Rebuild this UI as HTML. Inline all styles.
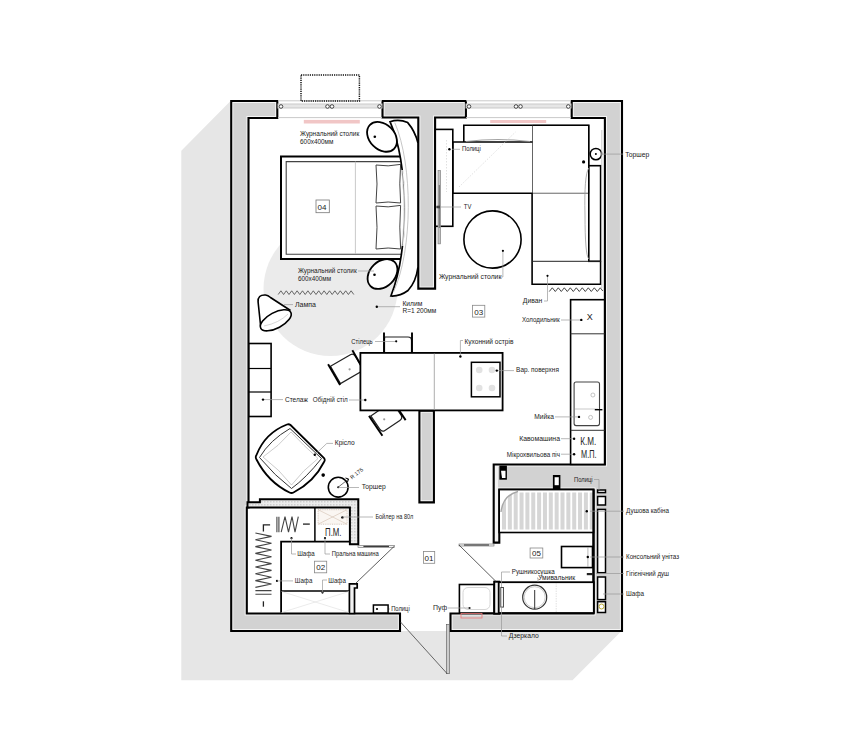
<!DOCTYPE html>
<html><head><meta charset="utf-8">
<style>
html,body{margin:0;padding:0;background:#fff;width:852px;height:745px;overflow:hidden}
svg{display:block}
text{font-family:"Liberation Sans",sans-serif;fill:#222}
</style></head><body>
<svg width="852" height="745" viewBox="0 0 852 745">
<defs>
<pattern id="hatch" width="3" height="3" patternUnits="userSpaceOnUse">
<rect width="3" height="3" fill="#ececec"/><rect x="0" y="0" width="1.5" height="1.5" fill="#cfcfcf"/>
</pattern>
</defs>
<!-- shadow -->
<polygon points="230,101.5 181.3,150.7 181.3,680.2 572.5,680.2 621.5,631 231,631" fill="#e6e6e6"/>
<!-- interior white -->
<rect x="248" y="118" width="357" height="496" fill="#fff"/>
<!-- rug -->
<circle cx="330.5" cy="289" r="67" fill="#ebebeb"/>

<!-- WALLS -->
<defs>
<clipPath id="cw1"><path d="M231.2,101 H277.3 V118 H248.5 V507.5 H246.8 V613.5 H400 V631 H231.2 Z"/></clipPath>
<clipPath id="cw2"><path d="M382.5,101 H465.9 V117.5 H435.1 V288.6 H418.3 V117.5 H382.5 Z"/></clipPath>
<clipPath id="cw3"><path d="M571.7,101 H622 V631 H450.5 V613.5 H593.5 V489.6 H499.3 V542.6 H493.7 V464.5 H604.9 V118 H571.7 Z"/></clipPath>
<clipPath id="cw4"><path d="M419.4,410.6 H433.9 V502.4 H419.4 Z"/></clipPath>
</defs>
<path d="M231.2,101 H277.3 V118 H248.5 V507.5 H246.8 V613.5 H400 V631 H231.2 Z" fill="#d2d2d2"/>
<path d="M231.2,101 H277.3 V118 H248.5 V507.5 H246.8 V613.5 H400 V631 H231.2 Z" fill="none" stroke="#f4f4f4" stroke-width="4.2" clip-path="url(#cw1)"/>
<path d="M231.2,101 H277.3 V118 H248.5 V507.5 H246.8 V613.5 H400 V631 H231.2 Z" fill="none" stroke="#000" stroke-width="2.1"/>
<path d="M382.5,101 H465.9 V117.5 H435.1 V288.6 H418.3 V117.5 H382.5 Z" fill="#d2d2d2"/>
<path d="M382.5,101 H465.9 V117.5 H435.1 V288.6 H418.3 V117.5 H382.5 Z" fill="none" stroke="#f4f4f4" stroke-width="4.2" clip-path="url(#cw2)"/>
<path d="M382.5,101 H465.9 V117.5 H435.1 V288.6 H418.3 V117.5 H382.5 Z" fill="none" stroke="#000" stroke-width="2.1"/>
<path d="M571.7,101 H622 V631 H450.5 V613.5 H593.5 V489.6 H499.3 V542.6 H493.7 V464.5 H604.9 V118 H571.7 Z" fill="#d2d2d2"/>
<path d="M571.7,101 H622 V631 H450.5 V613.5 H593.5 V489.6 H499.3 V542.6 H493.7 V464.5 H604.9 V118 H571.7 Z" fill="none" stroke="#f4f4f4" stroke-width="4.2" clip-path="url(#cw3)"/>
<path d="M571.7,101 H622 V631 H450.5 V613.5 H593.5 V489.6 H499.3 V542.6 H493.7 V464.5 H604.9 V118 H571.7 Z" fill="none" stroke="#000" stroke-width="2.1"/>
<path d="M419.4,410.6 H433.9 V502.4 H419.4 Z" fill="#d2d2d2"/>
<path d="M419.4,410.6 H433.9 V502.4 H419.4 Z" fill="none" stroke="#f4f4f4" stroke-width="4.2" clip-path="url(#cw4)"/>
<path d="M419.4,410.6 H433.9 V502.4 H419.4 Z" fill="none" stroke="#000" stroke-width="2.1"/>
<rect x="494.2" y="581.7" width="5.1" height="32" fill="#f2f2f2" stroke="#000" stroke-width="2"/>

<!-- room 02 wall -->
<path d="M248.5,502.2 H259.9 V499.3 H358.3 V544.2 H349.9 V507.5 H247.5 V502.2 Z" fill="url(#hatch)" stroke="#000" stroke-width="2"/>
<path d="M349.4,583.8 H357.2 V588 H354.5 V613.5 H349.4 Z" fill="#f2f2f2" stroke="#000" stroke-width="1.7"/>

<!-- windows -->
<g stroke="#c9c9c9" stroke-width="1" fill="none">
<line x1="278" y1="100.8" x2="382" y2="100.8"/><line x1="278" y1="117.6" x2="382" y2="117.6"/>
<rect x="278" y="104" width="104" height="4" fill="#e6e6e6"/>
<line x1="466" y1="100.8" x2="571" y2="100.8"/><line x1="466" y1="117.6" x2="571" y2="117.6"/>
<rect x="466" y="104" width="105" height="4" fill="#e6e6e6"/>
</g>
<g fill="#fff" stroke="#333" stroke-width="0.9">
<circle cx="281" cy="106.5" r="1.8"/><circle cx="327.5" cy="106.5" r="1.8"/><circle cx="332" cy="106.5" r="1.8"/><circle cx="379.5" cy="106.5" r="1.8"/>
<circle cx="469" cy="106.5" r="1.8"/><circle cx="516" cy="106.5" r="1.8"/><circle cx="520.5" cy="106.5" r="1.8"/><circle cx="568.3" cy="106.5" r="1.8"/>
</g>
<rect x="301" y="75" width="58.4" height="26" fill="none" stroke="#111" stroke-width="1.5" stroke-dasharray="1.2,1"/>
<rect x="303.8" y="119.9" width="56" height="3.6" fill="#f1c6c6"/>
<rect x="490.2" y="120" width="56" height="3" fill="#f1c6c6"/>

<!-- BEDROOM -->
<g fill="#fff" stroke="#000">
<path d="M403,156.6 H281 V259 H403" stroke-width="2"/>
<path d="M403,161.6 H286.2 V254.2 H403" fill="none" stroke="#444" stroke-width="1.1"/>
</g>
<line x1="355.4" y1="161.5" x2="355.4" y2="254" stroke="#bbb" stroke-width="0.8"/>
<g fill="#fff" stroke="#444" stroke-width="1">
<path d="M376,165 Q388,167 400.6,164.4 Q399,184 400.6,203 Q388,201 376,203 Q378,184 376,165 Z"/>
<path d="M376,206 Q388,208 400.6,205.4 Q399,227 400.6,249 Q388,247 376,249 Q378,227 376,206 Z"/>
</g>
<path d="M390,121.7 Q399,118.5 407.7,122.6 Q415,131 418,143 L418,267 Q416,282 408,290.5 Q400,296.5 390.9,296 C409,250 409,165 390,121.7 Z" fill="#fff" stroke="#000" stroke-width="1.7"/>
<path d="M394.8,122.6 C413,165 413,250 393.5,292" fill="none" stroke="#b8b8b8" stroke-width="0.8"/>
<clipPath id="hbmid"><rect x="380" y="170" width="40" height="76"/></clipPath>
<g clip-path="url(#hbmid)">
<path d="M390.9,296 C409,250 409,165 390,121.7" fill="none" stroke="#fff" stroke-width="2.6"/>
<path d="M390.9,296 C409,250 409,165 390,121.7" fill="none" stroke="#888" stroke-width="0.9"/>
</g>
<ellipse cx="382" cy="136.8" rx="17" ry="12.5" transform="rotate(45 382 136.8)" fill="#fff" stroke="#000" stroke-width="1.8"/>
<ellipse cx="382.5" cy="274" rx="17" ry="12.5" transform="rotate(-45 382.5 274)" fill="#fff" stroke="#000" stroke-width="1.8"/>
<circle cx="374.8" cy="136.8" r="1.3" fill="#000"/>
<circle cx="374.5" cy="274.8" r="1.3" fill="#000"/>
<rect x="316" y="200" width="13.3" height="12.7" fill="#fff" stroke="#777" stroke-width="0.8"/>
<text x="317.6" y="209.8" font-size="8" fill="#333">04</text>


<!-- LIVING -->
<rect x="435.3" y="129.4" width="17.5" height="96.9" fill="#fff" stroke="#000" stroke-width="1.6"/>
<rect x="438" y="170.4" width="2.6" height="73.5" fill="#c4c4c4" stroke="#777" stroke-width="0.6"/>
<line x1="439.3" y1="185" x2="439.3" y2="228" stroke="#555" stroke-width="0.8"/>
<rect x="436.5" y="205.8" width="3.5" height="2.4" fill="#111"/>
<rect x="532.5" y="125.2" width="56.3" height="68" fill="#fff" stroke="#555" stroke-width="0.9"/>
<g fill="none" stroke="#000" stroke-width="1.6">
<path d="M532.5,125.2 H588.8 V166"/>
<path d="M532.5,125.2 H463.8 V142"/>
<path d="M532.5,142 H452.8 V193.2 H532.5"/>
<path d="M532.1,193.2 V284.3 H600.6 V261.3"/>
<rect x="588.8" y="165.7" width="11.8" height="95.6"/>
</g>
<line x1="532.1" y1="261.3" x2="600.6" y2="261.3" stroke="#222" stroke-width="1"/>
<path d="M588.8,168 Q584,175 585,215 Q585,255 588.8,259" fill="none" stroke="#999" stroke-width="0.8"/>
<path d="M466,141.5 Q498,137.5 530,141.5" fill="none" stroke="#999" stroke-width="0.9"/>

<g stroke="#d8d8d8" stroke-width="0.8" fill="none" stroke-dasharray="1.5,1.5">
<line x1="459" y1="187" x2="515.5" y2="132"/>
<line x1="446.5" y1="140" x2="446.5" y2="192"/>
</g>
<circle cx="595.9" cy="154.1" r="5.7" fill="#fff" stroke="#000" stroke-width="1.5"/>
<circle cx="595.9" cy="154.1" r="1" fill="#000"/>
<circle cx="583.6" cy="161.9" r="1.6" fill="#000"/>
<line x1="601.8" y1="130" x2="601.8" y2="288" stroke="#bbb" stroke-width="0.8"/>
<circle cx="492.5" cy="239.5" r="28.6" fill="none" stroke="#000" stroke-width="1.6"/>
<polyline points="549.3,291.5 552.3,287.8 555.3,291.5 558.3,287.8 561.3,291.5 564.3,287.8 567.3,291.5 570.3,287.8 573.3,291.5 576.3,287.8 579.3,291.5 582.3,287.8 585.3,291.5 588.3,287.8 591.3,291.5 594.3,287.8 597.3,291.5 600.3,287.8 602.8,291" fill="none" stroke="#333" stroke-width="0.9"/>


<!-- KITCHEN -->
<g fill="#fff" stroke="#000" stroke-width="1.6">
<rect x="570.6" y="299.7" width="34" height="164.7"/>
</g>
<line x1="570.6" y1="333.8" x2="604.6" y2="333.8" stroke="#333" stroke-width="1"/>
<line x1="570.6" y1="430.3" x2="604.6" y2="430.3" stroke="#333" stroke-width="1"/>
<rect x="574.1" y="382" width="25.4" height="43.6" rx="2" fill="#fff" stroke="#444" stroke-width="1.1"/>
<line x1="575" y1="409" x2="598" y2="409" stroke="#bbb" stroke-width="0.8"/>
<circle cx="592.9" cy="395" r="2" fill="none" stroke="#aaa" stroke-width="0.7"/>
<circle cx="590.6" cy="417.4" r="2" fill="none" stroke="#aaa" stroke-width="0.7"/>
<line x1="594.8" y1="409.7" x2="602.4" y2="409.7" stroke="#000" stroke-width="1.4"/>
<text x="586.8" y="319.8" font-size="8.5" fill="#111" textLength="6" lengthAdjust="spacingAndGlyphs">X</text>
<text x="580.3" y="445.3" font-size="10" fill="#111" textLength="16" lengthAdjust="spacingAndGlyphs">К.М.</text>
<text x="581" y="457.8" font-size="10" fill="#111" textLength="15.5" lengthAdjust="spacingAndGlyphs">М.П.</text>

<!-- chairs -->
<g transform="translate(384,332.4) rotate(90)"><path d="M4.6,-1 Q4.6,-0.5 8,-0.5 H24 V-27.5 H8 Q4.6,-27.5 4.6,-24 Z" fill="#fff" stroke="#222" stroke-width="1.2"/><line x1="0" y1="0" x2="24" y2="0" stroke="#000" stroke-width="1.9"/><line x1="0" y1="-28" x2="24" y2="-28" stroke="#000" stroke-width="1.9"/></g>
<g transform="translate(328.1,364.2) rotate(60)"><path d="M3,-1 V-24 Q3,-27.5 7,-27.5 H23 V-1 Z" fill="#fff" stroke="#222" stroke-width="1.2"/><line x1="0" y1="0" x2="24" y2="0" stroke="#000" stroke-width="1.9"/><line x1="0" y1="-28" x2="24" y2="-28" stroke="#000" stroke-width="1.9"/></g>
<g transform="translate(369,415.9) rotate(56)"><path d="M1,-1.5 V-23 Q1,-27 5,-27 H17 Q21,-27 21,-23 V-5 Q21,-1.5 17,-1.5 Z" fill="#fff" stroke="#222" stroke-width="1.2"/><line x1="0" y1="0" x2="24" y2="0" stroke="#000" stroke-width="1.9"/><line x1="0" y1="-28" x2="24" y2="-28" stroke="#000" stroke-width="1.9"/></g>
<circle cx="349.6" cy="369.3" r="1.1" fill="#999"/>
<circle cx="384.2" cy="419.3" r="1.1" fill="#999"/>
<!-- ISLAND -->
<rect x="360.4" y="352.9" width="142.2" height="57.5" fill="#fff" stroke="#000" stroke-width="1.8"/>
<line x1="434.3" y1="353.5" x2="434.3" y2="410" stroke="#999" stroke-width="0.8"/>
<rect x="471.4" y="362.3" width="28.6" height="34.5" fill="#fff" stroke="#000" stroke-width="1.5"/>
<g fill="#e2e2e2"><circle cx="479.2" cy="370" r="3.3"/><circle cx="492" cy="370" r="3.3"/><circle cx="479.2" cy="388" r="3.3"/><circle cx="492" cy="388" r="3.3"/></g>
<!-- shelving -->
<g fill="#fff" stroke="#000" stroke-width="1.6">
<rect x="248.9" y="343.5" width="22.2" height="73"/>
</g>
<line x1="248.9" y1="368.5" x2="271" y2="368.5" stroke="#000" stroke-width="1.2"/>
<line x1="248.9" y1="392" x2="271" y2="392" stroke="#000" stroke-width="1.2"/>

<!-- armchair -->
<path d="M290.5,425 L324,458 Q325.5,460 324,462 Q314,482 293.5,492.5 Q291.5,493.5 289.5,492.5 Q268,482 256.5,459.5 Q255,457 256.5,455 Q265,433 287,424.5 Q289,423.8 290.5,425 Z" fill="#fff" stroke="#000" stroke-width="1.8"/>
<path d="M290,428.5 L321.5,458.5 Q306,478 291.5,488.5 Q275,476 259.5,457.5 Q270,440 290,428.5 Z" fill="none" stroke="#333" stroke-width="1"/>
<path d="M291,432 Q303,445 318,458.5 Q303,470 291.5,485 Q280,470 263,457 Q279,446 291,432 Z" fill="none" stroke="#aaa" stroke-width="0.6"/>
<circle cx="323.2" cy="475.1" r="1.8" fill="#000"/>
<circle cx="338.2" cy="487.2" r="9.9" fill="#fff" stroke="#000" stroke-width="1.6"/>
<circle cx="338.2" cy="487.2" r="1" fill="#000"/>


<!-- ROOM 02 contents -->
<g stroke="#000" fill="none">
<line x1="314.9" y1="508" x2="314.9" y2="541.6" stroke-width="1.5"/>
<polyline points="349.5,541.6 281.1,541.6 281.1,612.8" stroke-width="1.8"/>
<line x1="281.1" y1="591" x2="349.5" y2="591" stroke-width="1.5"/>
</g>
<rect x="318.1" y="509.7" width="29" height="14.5" fill="#faf6f2" stroke="#c9b6a6" stroke-width="0.7" stroke-dasharray="1,0.8"/>
<path d="M318.1,509.7 L347.1,524.2 M347.1,509.7 L318.1,524.2" stroke="#d2c0b0" stroke-width="0.6"/>
<circle cx="342.4" cy="517.4" r="1.2" fill="#000"/>
<path d="M281.5,591.5 L349,612.5 M349,591.5 L281.5,612.5" stroke="#ddd" stroke-width="0.6"/>
<text x="325" y="536" font-size="10" fill="#111" textLength="16.5" lengthAdjust="spacingAndGlyphs">П.М.</text>
<!-- hangers -->
<g stroke="#444" stroke-width="1.1" fill="none">
<path d="M276.9,516.7 V532.2 M278.9,516.7 V532.2 M281.2,532.2 L285,516.7 L288.5,532.2 L292,516.7 L295,532.2 L298.3,516.7"/>
<path d="M303,524.1 H309.8" stroke="#222" stroke-width="1.3"/>
<path d="M270.1,524.8 H263.4 V531.5" stroke="#222" stroke-width="1.3"/>
<polyline points="255.4,533.0 271.5,536.4 255.4,539.8 271.5,543.2 255.4,546.6 271.5,550.0 255.4,553.4 271.5,556.8 255.4,560.2 271.5,563.6 255.4,567.0 271.5,570.4 255.4,573.8 271.5,577.2 255.4,580.6 271.5,584.0 255.4,587.4"/>
<path d="M255.4,590.6 H271.5 M255.4,594.3 H271.5"/>
<path d="M263.4,601.3 V606.7" stroke="#222" stroke-width="1.3"/>
</g>
<g fill="#000">
<circle cx="291.5" cy="538.2" r="1.1"/><circle cx="325" cy="538.2" r="1.1"/>
<circle cx="277" cy="580.9" r="1.1"/><circle cx="322.5" cy="592.6" r="1.1"/>
</g>
<!-- rooms 02 door -->
<rect x="358" y="545.4" width="36.5" height="2" fill="#f4f4f4" stroke="#666" stroke-width="0.6"/>
<line x1="363.4" y1="546.4" x2="389" y2="546.4" stroke="#333" stroke-width="1.1"/>
<line x1="394" y1="546.5" x2="355.5" y2="583.5" stroke="#333" stroke-width="0.8"/>
<rect x="373.4" y="605" width="14.7" height="8" fill="#fff" stroke="#000" stroke-width="1.5"/>
<circle cx="377" cy="609" r="1.1" fill="#000"/>

<!-- BATHROOM -->
<rect x="499.2" y="489.6" width="94.3" height="42.9" fill="#fff"/>
<g fill="#d6d6d6"><rect x="502.00" y="492.5" width="4" height="37"/><rect x="507.85" y="492.5" width="4" height="37"/><rect x="513.70" y="492.5" width="4" height="37"/><rect x="519.55" y="492.5" width="4" height="37"/><rect x="525.40" y="492.5" width="4" height="37"/><rect x="531.25" y="492.5" width="4" height="37"/><rect x="537.10" y="492.5" width="4" height="37"/><rect x="542.95" y="492.5" width="4" height="37"/><rect x="548.80" y="492.5" width="4" height="37"/><rect x="554.65" y="492.5" width="4" height="37"/><rect x="560.50" y="492.5" width="4" height="37"/><rect x="566.35" y="492.5" width="4" height="37"/><rect x="572.20" y="492.5" width="4" height="37"/><rect x="578.05" y="492.5" width="4" height="37"/><rect x="583.90" y="492.5" width="4" height="37"/><rect x="589.75" y="492.5" width="4" height="37"/></g>
<path d="M500,491 H518 Q503,495 500.5,513 Z" fill="#fff"/>
<path d="M501,512 Q503,495 518,491.5" fill="none" stroke="#a8a8a8" stroke-width="1.4"/>
<rect x="499.2" y="489.6" width="94.3" height="42.9" fill="none" stroke="#000" stroke-width="1.6"/>
<rect x="495" y="466" width="3" height="75" fill="#f2f2f2"/>
<rect x="499.4" y="465.6" width="7.5" height="14.1" fill="#000"/><path d="M501,470.8 H505.5 V478 H502 Z" fill="#fff"/>
<rect x="552.9" y="475" width="7.5" height="14.1" fill="#000"/><path d="M554.6,477.2 H558.8 V485.2 H554.6 Z" fill="#fff"/>
<line x1="593.5" y1="489.6" x2="593.5" y2="613" stroke="#000" stroke-width="2"/>
<g fill="#fff" stroke="#000" stroke-width="1.5">
<rect x="597.6" y="490" width="7.9" height="2.6"/>
<rect x="597.6" y="496.5" width="7.9" height="8.5"/>
<rect x="597.6" y="509.4" width="7.9" height="63.3"/>
<rect x="597.6" y="577" width="7.9" height="22.6"/>
<rect x="597.6" y="601.7" width="7.9" height="10.8"/>
</g>
<circle cx="601.5" cy="606.5" r="2.5" fill="none" stroke="#b8a830" stroke-width="1"/>
<rect x="561.5" y="546.5" width="31" height="21.1" fill="#fff" stroke="#000" stroke-width="1.6"/>
<line x1="587.9" y1="547" x2="587.9" y2="567" stroke="#999" stroke-width="0.7"/>
<rect x="586.8" y="573" width="6.4" height="2.2" fill="#222"/>
<rect x="498.7" y="582.2" width="95.1" height="30.8" fill="#fff" stroke="#000" stroke-width="1.8"/>
<circle cx="534.7" cy="597.2" r="12" fill="#fff" stroke="#333" stroke-width="1.2"/>
<circle cx="534.7" cy="597.2" r="10.5" fill="none" stroke="#aaa" stroke-width="0.6"/>
<line x1="534.7" y1="590" x2="534.7" y2="609" stroke="#333" stroke-width="1"/>
<rect x="500.8" y="587.5" width="2.6" height="19.6" fill="#fff" stroke="#333" stroke-width="0.9"/>
<line x1="556.2" y1="583" x2="556.2" y2="612" stroke="#ccc" stroke-width="0.6" stroke-dasharray="1.5,1"/>
<!-- bath door -->
<rect x="459" y="544" width="35" height="2" fill="#f4f4f4" stroke="#666" stroke-width="0.6"/>
<line x1="464" y1="545" x2="489" y2="545" stroke="#333" stroke-width="1.1"/>
<line x1="459" y1="545" x2="496" y2="581.5" stroke="#333" stroke-width="0.8"/>
<!-- pouf -->
<rect x="459.4" y="584.5" width="34.5" height="28.5" fill="#fff" stroke="#000" stroke-width="1.6"/>
<rect x="463" y="587.5" width="27" height="22" rx="5" fill="#fff" stroke="#ccc" stroke-width="0.8"/>
<circle cx="469.5" cy="608" r="1.1" fill="#000"/>
<rect x="461" y="613.5" width="21" height="4.5" fill="none" stroke="#e77" stroke-width="0.8"/>
<!-- entrance door -->
<rect x="446.5" y="624.4" width="2.8" height="49.3" fill="#ccc" stroke="#555" stroke-width="0.6"/>
<line x1="400.5" y1="622" x2="447" y2="673.5" stroke="#444" stroke-width="0.8"/>


<g stroke="#9a9a9a" stroke-width="0.7" fill="none">
<path d="M358,271 H374"/>
<path d="M284,304.6 H293"/>
<path d="M377,306.7 H400"/>
<path d="M375,341.5 H396"/>
<path d="M460.4,356.5 V340.5 H463"/>
<path d="M544,301 H547.5 V276"/>
<path d="M561,320 H581"/>
<path d="M497,370.6 H514"/>
<path d="M452,149.3 H460"/>
<path d="M437,207 H461"/>
<path d="M502.9,250.8 V277 H501"/>
<path d="M601,154.1 H623"/>
<path d="M263,399.6 H283"/>
<path d="M349,400 H365"/>
<path d="M314.8,454.8 L326.8,443.4 H333"/>
<path d="M338.3,487.5 H359"/>
<path d="M555,416.9 H579"/>
<path d="M561,438.7 H574"/>
<path d="M561,454.2 H574"/>
<path d="M342.4,517 H373"/>
<path d="M291.5,538.2 V554 H296"/>
<path d="M325,538.2 V554 H330"/>
<path d="M277,580.9 H293"/>
<path d="M322.5,592.6 V580 H327"/>
<path d="M389,609 H390"/>
<path d="M448,608 H469.5"/>
<path d="M594,479.5 H599 V490"/>
<path d="M590,511.2 H624"/>
<path d="M590,557 H624"/>
<path d="M596,573.5 H624"/>
<path d="M603,594 H624"/>
<path d="M501.5,587 V572 H510"/>
<path d="M538,582 V578 H537"/>
<path d="M501.5,607 V636 H507"/>
</g>
<g fill="#000">
<circle cx="449.4" cy="149.3" r="1.2"/>
<circle cx="502.9" cy="250.8" r="1.1"/>
<circle cx="547.5" cy="275.8" r="1.1"/>
<circle cx="581.3" cy="319.9" r="1.2"/>
<circle cx="396.2" cy="341.3" r="1.1"/>
<circle cx="460.4" cy="356.5" r="1.2"/>
<circle cx="496.8" cy="370.6" r="1.2"/>
<circle cx="376.8" cy="306.7" r="1.2"/>
<circle cx="270.7" cy="308.2" r="1.3"/>
<circle cx="263" cy="399.6" r="1.2"/>
<circle cx="365.3" cy="400" r="1.2"/>
<circle cx="314.8" cy="454.8" r="1.2"/>
<circle cx="579" cy="416.9" r="1.2"/>
<circle cx="574.1" cy="438.7" r="1.2"/>
<circle cx="574.1" cy="454.2" r="1.2"/>
<circle cx="586.8" cy="511.2" r="1.2"/>
<circle cx="587.8" cy="557" r="1.2"/>
</g>
<!-- room labels -->
<g fill="#fff" stroke="#888" stroke-width="0.8">
<rect x="472.5" y="305.3" width="12.3" height="11.8"/>
<rect x="314.4" y="561.2" width="12.3" height="11.6"/>
<rect x="423.4" y="551.5" width="11.3" height="11.8"/>
<rect x="530.1" y="548" width="12.7" height="10"/>
</g>
<g font-size="8" fill="#333">
<text x="474.3" y="314.6">03</text>
<text x="316.2" y="570.2">02</text>
<text x="424.6" y="560.6">01</text>
<text x="532" y="556.4">05</text>
</g>
<!-- bedroom lamp -->
<path d="M260.7,326.5 L258.1,302 Q257.5,294.5 265.5,295 Q268,295.3 270.5,297.5 L290.5,310.5 Z" fill="#fff" stroke="none"/>
<path d="M260.7,326.5 L258.1,302 Q257.5,294.5 265.5,295 Q268,295.3 270.5,297.5 L290.5,310.5" fill="none" stroke="#000" stroke-width="1.6"/>
<ellipse cx="275.8" cy="320.3" rx="17" ry="7.8" transform="rotate(-28 275.8 320.3)" fill="#fff" stroke="#000" stroke-width="1.6"/>
<path d="M264,326 Q279,323 288,314" fill="none" stroke="#bbb" stroke-width="0.6"/>
<polyline points="278.2,294.5 280.9,290.8 283.6,294.5 286.3,290.8 289,294.5 291.7,290.8 294.4,294.5 297.1,290.8 299.8,294.5 302.5,290.8 305.2,294.5 307.9,290.8 310.6,294.5 313.3,290.8 316,294.5 318.7,290.8 321.4,294.5 324.1,290.8 326.8,294.5 329.5,290.8 332.2,294.5 334.9,290.8 337.6,294.5 340.3,290.8 343,294.5 345.7,290.8 348.4,294.5 351.1,290.8 353.8,294.5" fill="none" stroke="#444" stroke-width="0.8"/>
<!-- R175 -->
<line x1="338.2" y1="487.2" x2="348.5" y2="479" stroke="#333" stroke-width="0.7"/>
<path d="M345.5,478 L348.5,479 L347.5,482" fill="none" stroke="#000" stroke-width="1"/>
<text x="352" y="479.5" font-size="5.5" fill="#555" transform="rotate(-38 352 479.5)">R 175</text>
<g font-size="6.6" fill="#666" style="letter-spacing:0">
<text x="300" y="136.4" textLength="59.2" lengthAdjust="spacingAndGlyphs">Журнальний столик</text>
<text x="300" y="143.5" textLength="33.4" lengthAdjust="spacingAndGlyphs">600х400мм</text>
<text x="298" y="272.8" textLength="58.7" lengthAdjust="spacingAndGlyphs">Журнальний столик</text>
<text x="298" y="280.6" textLength="33" lengthAdjust="spacingAndGlyphs">600х400мм</text>
<text x="295" y="307.1" textLength="21" lengthAdjust="spacingAndGlyphs">Лампа</text>
<text x="402.4" y="305.6" textLength="20" lengthAdjust="spacingAndGlyphs">Килим</text>
<text x="402.4" y="313" textLength="34" lengthAdjust="spacingAndGlyphs">R=1 200мм</text>
<text x="351.2" y="343.5" textLength="21.5" lengthAdjust="spacingAndGlyphs">Стілець</text>
<text x="464.4" y="343.5" textLength="49" lengthAdjust="spacingAndGlyphs">Кухонний острів</text>
<text x="522.8" y="302.7" textLength="19.4" lengthAdjust="spacingAndGlyphs">Диван</text>
<text x="521.9" y="321.7" textLength="37.9" lengthAdjust="spacingAndGlyphs">Холодильник</text>
<text x="516.1" y="372.4" textLength="42.8" lengthAdjust="spacingAndGlyphs">Вар. поверхня</text>
<text x="462" y="150.7" textLength="18.8" lengthAdjust="spacingAndGlyphs">Полиці</text>
<text x="463.8" y="209.2" textLength="7.5" lengthAdjust="spacingAndGlyphs">TV</text>
<text x="438.9" y="278.5" textLength="62.5" lengthAdjust="spacingAndGlyphs">Журнальний столик</text>
<text x="625.2" y="156.8" textLength="24" lengthAdjust="spacingAndGlyphs">Торшер</text>
<text x="284.9" y="401.5" textLength="23" lengthAdjust="spacingAndGlyphs">Стелаж</text>
<text x="312.8" y="401.5" textLength="35" lengthAdjust="spacingAndGlyphs">Обідній стіл</text>
<text x="334.8" y="445.4" textLength="19.9" lengthAdjust="spacingAndGlyphs">Крісло</text>
<text x="361.7" y="489.3" textLength="24" lengthAdjust="spacingAndGlyphs">Торшер</text>
<text x="534.2" y="418.6" textLength="19.7" lengthAdjust="spacingAndGlyphs">Мийка</text>
<text x="519.2" y="440.8" textLength="40.8" lengthAdjust="spacingAndGlyphs">Кавомашина</text>
<text x="506.8" y="456.6" textLength="53.2" lengthAdjust="spacingAndGlyphs">Мікрохвильова піч</text>
<text x="375.4" y="519" textLength="37.9" lengthAdjust="spacingAndGlyphs">Бойлер на 80л</text>
<text x="297.2" y="556.4" textLength="17.5" lengthAdjust="spacingAndGlyphs">Шафа</text>
<text x="331.8" y="556.4" textLength="47" lengthAdjust="spacingAndGlyphs">Пральна машина</text>
<text x="294.8" y="582.5" textLength="17.5" lengthAdjust="spacingAndGlyphs">Шафа</text>
<text x="328.3" y="582.5" textLength="17.5" lengthAdjust="spacingAndGlyphs">Шафа</text>
<text x="391.2" y="611.1" textLength="18.5" lengthAdjust="spacingAndGlyphs">Полиці</text>
<text x="433.1" y="610.3" textLength="14" lengthAdjust="spacingAndGlyphs">Пуф</text>
<text x="574" y="481.5" textLength="18.5" lengthAdjust="spacingAndGlyphs">Полиці</text>
<text x="626.1" y="513.3" textLength="43" lengthAdjust="spacingAndGlyphs">Душова кабіна</text>
<text x="626" y="558.8" textLength="53" lengthAdjust="spacingAndGlyphs">Консольний унітаз</text>
<text x="626" y="575.5" textLength="43" lengthAdjust="spacingAndGlyphs">Гігієнічний душ</text>
<text x="626" y="596.4" textLength="18" lengthAdjust="spacingAndGlyphs">Шафа</text>
<text x="511.8" y="574" textLength="43" lengthAdjust="spacingAndGlyphs">Рушникосушка</text>
<text x="538.2" y="580.3" textLength="37" lengthAdjust="spacingAndGlyphs">Умивальник</text>
<text x="508.7" y="637.8" textLength="30" lengthAdjust="spacingAndGlyphs">Дзеркало</text>
</g>
</svg>
</body></html>
